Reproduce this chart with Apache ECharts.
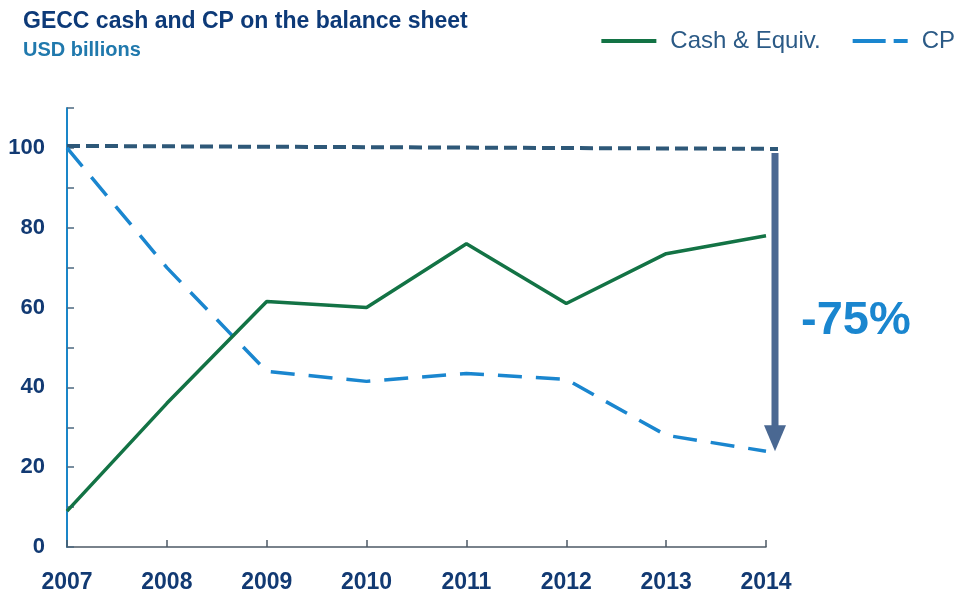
<!DOCTYPE html>
<html>
<head>
<meta charset="utf-8">
<script src="https://cdn.jsdelivr.net/npm/echarts@6/dist/echarts.min.js"></script>
<style>
  html, body { margin: 0; padding: 0; background: #fff; }
  #chart { width: 961px; height: 600px; }
</style>
</head>
<body>
<div id="chart"></div>
<script>
var years = ['2007', '2008', '2009', '2010', '2011', '2012', '2013', '2014'];
var cashEquiv = [9, 36, 61.5, 60, 76, 61, 73.5, 78];
var cp = [100, 70, 44, 41.5, 43.5, 42, 28, 24];
var yTicks = [0, 20, 40, 60, 80, 100];
var peak = 100;
var drop = '-75%';

var chart = echarts.init(document.getElementById('chart'));
var font = 'Liberation Sans, Arial, sans-serif';

var option = {
  animation: false,
  textStyle: { fontFamily: font },
  title: {
    text: 'GECC cash and CP on the balance sheet',
    subtext: 'USD billions',
    left: 18, top: 5,
    itemGap: 7,
    textStyle: { fontSize: 23, fontWeight: 'bold', color: '#0d3a78', fontFamily: font },
    subtextStyle: { fontSize: 20, fontWeight: 'bold', color: '#2079ad', fontFamily: font }
  },
  legend: {
    right: 1, top: 24,
    itemWidth: 55, itemHeight: 4, itemGap: 32,
    textStyle: { fontSize: 24, color: '#2b5a86', fontFamily: font, padding: [0, 0, 0, 9] },
    data: [
      { name: 'Cash & Equiv.', icon: 'rect' },
      { name: 'CP', icon: 'path://M0,0H33V4H0Z M41,0H55V4H41Z' }
    ]
  },
  grid: { left: 67, right: 195, top: 108, bottom: 53 },
  xAxis: {
    type: 'category',
    data: years,
    boundaryGap: false,
    axisLine: { lineStyle: { color: '#4d5a66', width: 1.5 } },
    axisTick: { inside: true, length: 7, alignWithLabel: true, lineStyle: { color: '#4d5a66', width: 1.5 } },
    axisLabel: { fontSize: 23, fontWeight: 'bold', color: '#123a73', margin: 24 }
  },
  yAxis: {
    type: 'value',
    min: 0, max: 110, interval: 10,
    splitLine: { show: false },
    axisLine: { show: true, lineStyle: { color: '#1a86c8', width: 2 } },
    axisTick: { show: true, inside: true, length: 7, lineStyle: { color: '#4d6a80', width: 1.5 } },
    axisLabel: {
      fontSize: 22, fontWeight: 'bold', color: '#123a73', margin: 22,
      formatter: function (v) { return yTicks.indexOf(v) >= 0 ? v : ''; }
    }
  },
  series: [
    {
      name: 'Cash & Equiv.',
      type: 'line',
      data: cashEquiv,
      symbol: 'none',
      lineStyle: { color: '#137345', width: 3.5 },
      itemStyle: { color: '#137345' },
      z: 3
    },
    {
      name: 'CP',
      type: 'line',
      data: cp,
      symbol: 'none',
      lineStyle: { color: '#1a86cf', width: 3.5, type: [24, 14] },
      itemStyle: { color: '#1a86cf' },
      z: 2
    }
  ]
};
chart.setOption(option);

// dashed 100 line, arrow and -75% label placed from axis coordinates
var xLeft = chart.convertToPixel({ xAxisIndex: 0 }, 0);
var xRight = chart.convertToPixel({ xAxisIndex: 0 }, years.length - 1);
var yPeak = chart.convertToPixel({ yAxisIndex: 0 }, peak);
var yTop = chart.convertToPixel({ yAxisIndex: 0 }, peak - 1);
var yBot = chart.convertToPixel({ yAxisIndex: 0 }, cp[cp.length - 1]);
var yMid = chart.convertToPixel({ yAxisIndex: 0 }, 56.5);
var ax = xRight + 9;
chart.setOption({
  graphic: [
    {
      type: 'line',
      shape: { x1: xLeft, y1: yPeak - 2, x2: ax + 3, y2: yPeak + 1 },
      style: { stroke: '#2e5878', lineWidth: 4, lineDash: [13, 6] },
      z: 1
    },
    {
      type: 'rect',
      shape: { x: ax - 3.5, y: yTop + 1, width: 7, height: yBot - yTop - 26 },
      style: { fill: '#4a6892' }
    },
    {
      type: 'polygon',
      shape: { points: [[ax - 11, yBot - 26], [ax + 11, yBot - 26], [ax, yBot]] },
      style: { fill: '#4a6892' }
    },
    {
      type: 'text',
      x: ax + 26, y: yMid,
      style: {
        text: drop, fill: '#1a86cf', fontSize: 47, fontWeight: 'bold',
        fontFamily: font, verticalAlign: 'middle'
      }
    }
  ]
});
</script>
</body>
</html>
